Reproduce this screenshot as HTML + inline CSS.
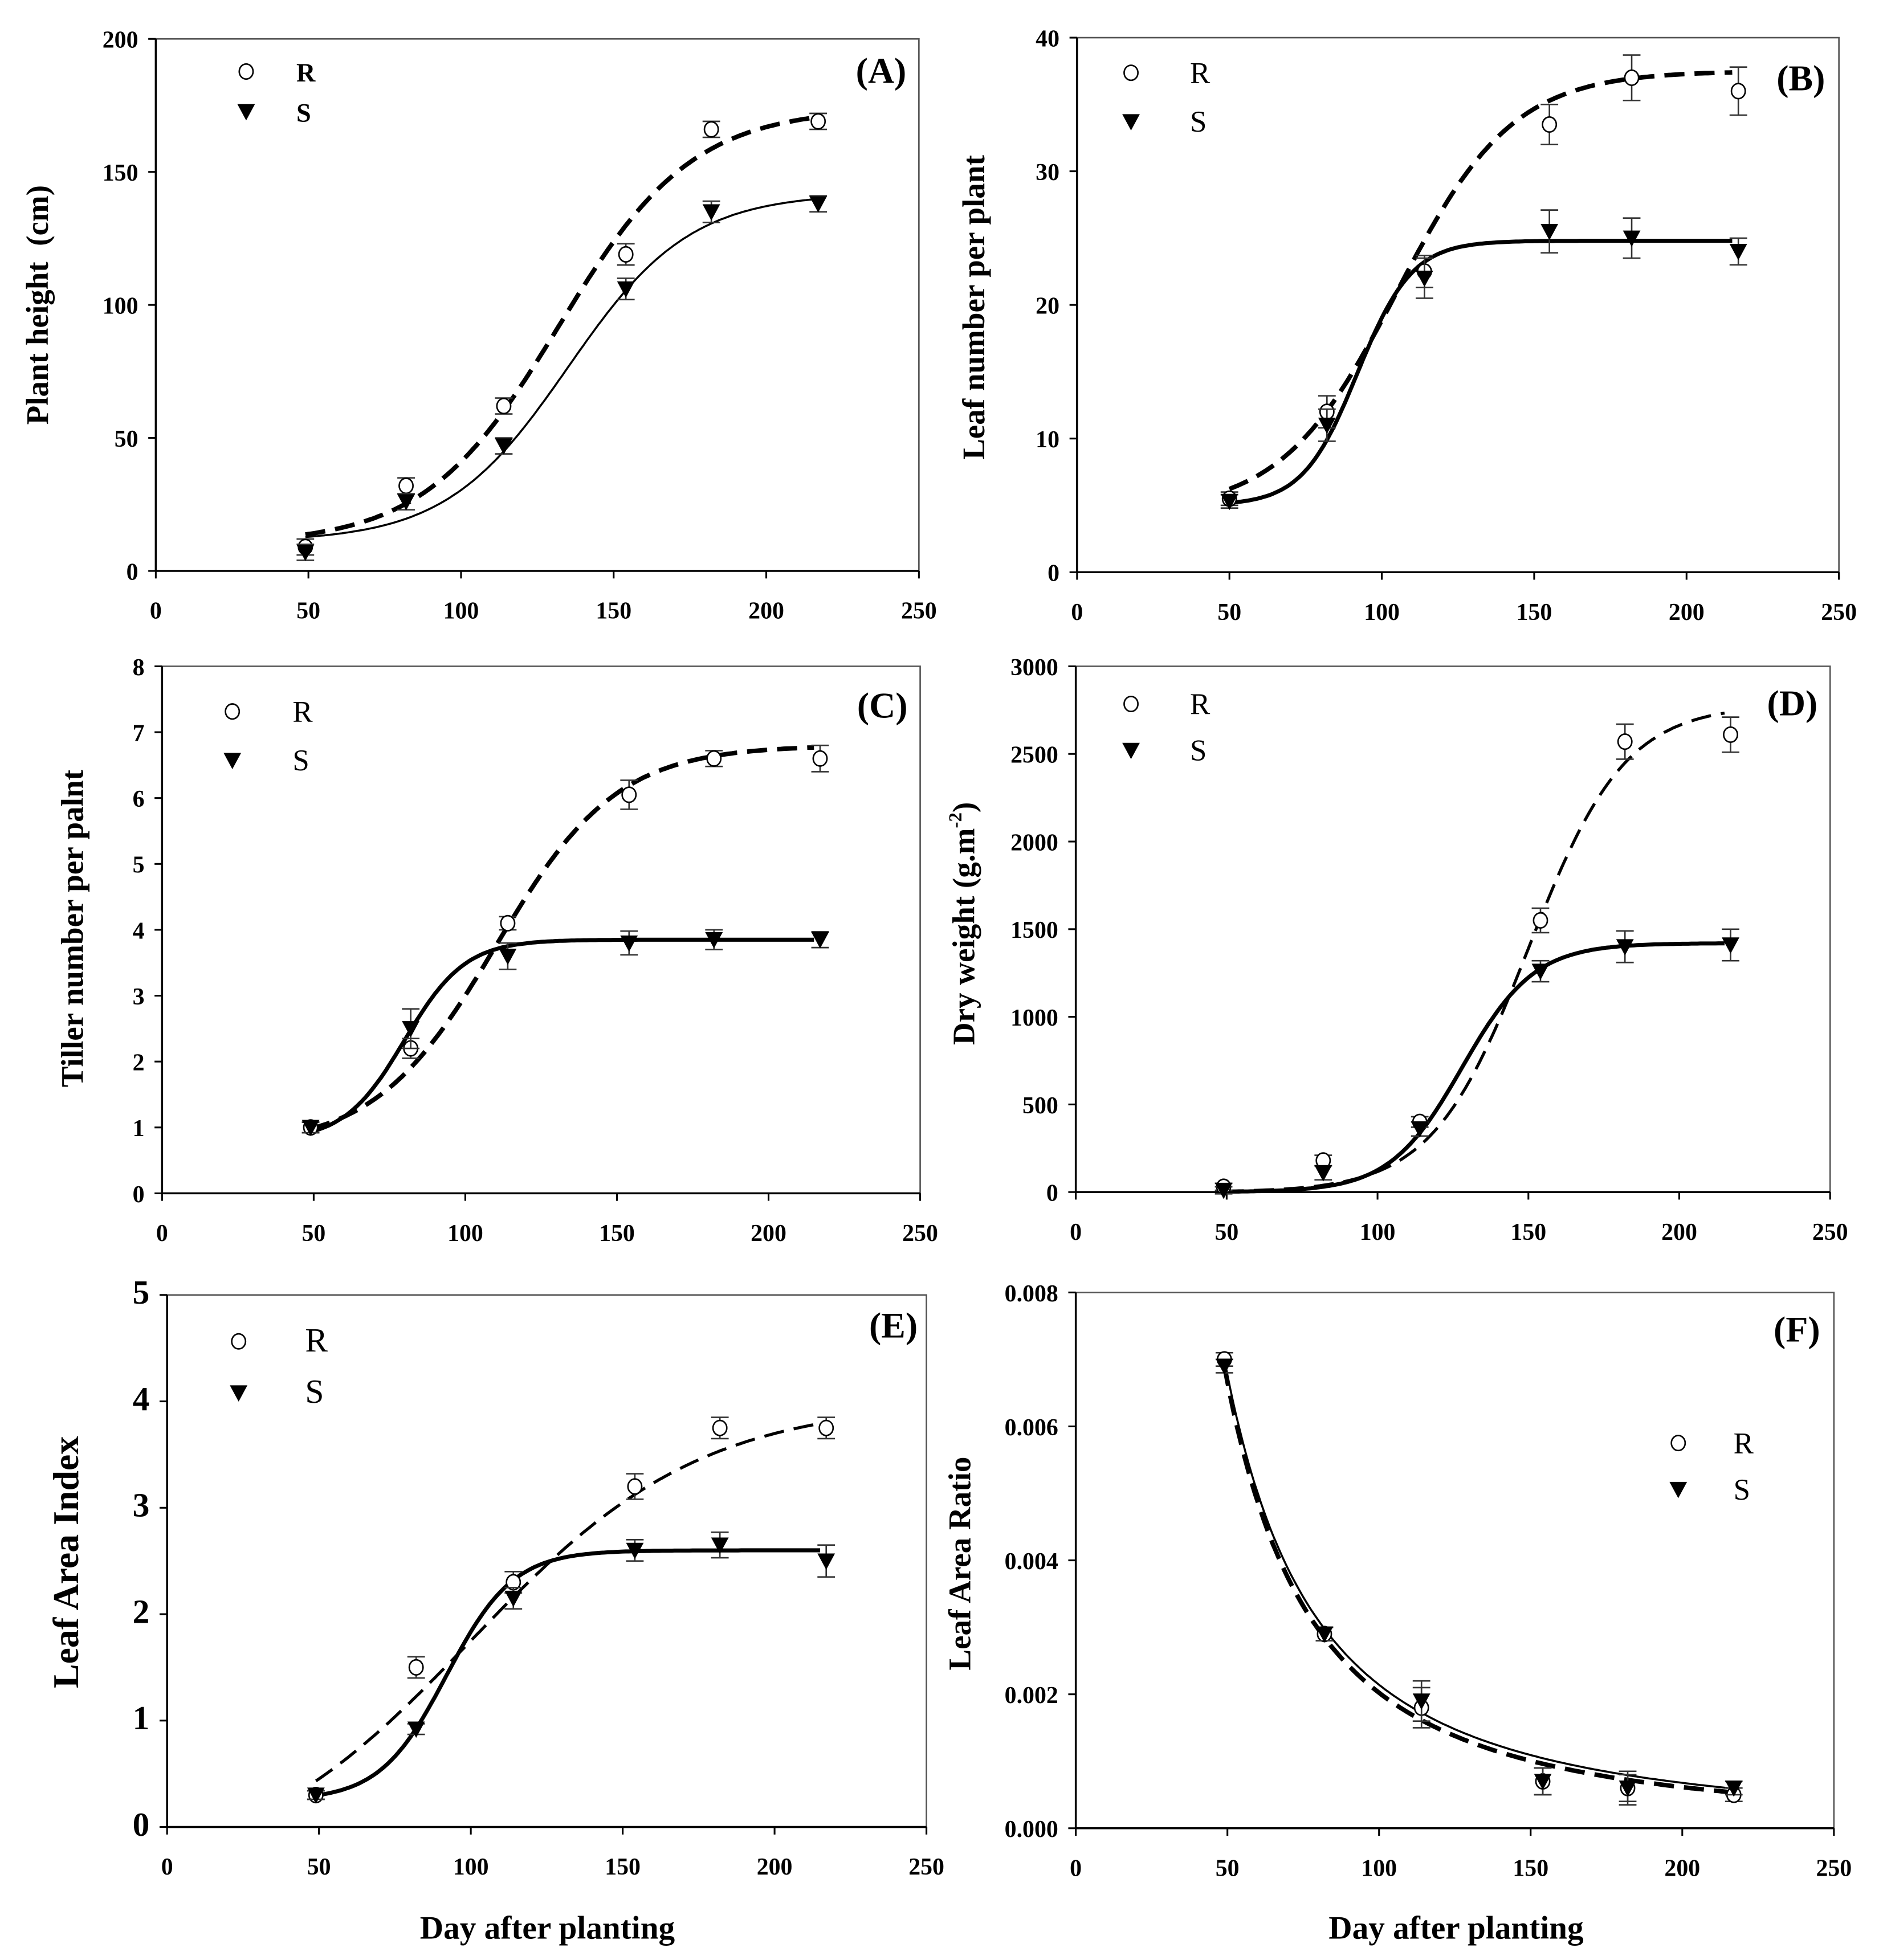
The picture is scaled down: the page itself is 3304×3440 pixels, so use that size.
<!DOCTYPE html>
<html><head><meta charset="utf-8"><style>
html,body{margin:0;padding:0;background:#fff;}
svg{display:block;font-family:"Liberation Serif",serif;}
</style></head><body>
<svg id="fig" xmlns="http://www.w3.org/2000/svg" width="3304" height="3440" viewBox="0 0 1500 1562"></svg>
<script>
// ---- data ----
const daysA=[49,82,114,154,182,217];
const aR=[9,32,62,119,166,169], aS=[7,26,47,106,135,138];
const aRerr=[3,3,3,4,3,3], aSerr=[3,3,3,4,4,3];
const daysB=[50,82,114,155,182,217];
const bR=[5.5,12,22.5,33.5,37,36], bS=[5.3,11,22,25.5,25,24];
const bRerr=[0.5,1.2,1.2,1.5,1.7,1.8], bSerr=[0.5,1.2,1.5,1.6,1.5,1];
const daysC=[49,82,114,154,182,217];
const cR=[1,2.2,4.1,6.05,6.6,6.6], cS=[1,2.5,3.6,3.8,3.85,3.85];
const cRerr=[0.08,0.15,0.1,0.22,0.12,0.2], cSerr=[0.08,0.3,0.2,0.18,0.15,0.12];
const daysD=[49,82,114,154,182,217];
const dR=[30,180,400,1550,2570,2610], dS=[10,110,360,1260,1400,1410];
const dRerr=[20,30,30,70,100,100], dSerr=[20,40,40,60,90,90];
const daysE=[49,82,114,154,182,217];
const eR=[0.3,1.5,2.3,3.2,3.75,3.75], eS=[0.3,0.92,2.15,2.6,2.65,2.5];
const eRerr=[0.04,0.1,0.1,0.12,0.1,0.1], eSerr=[0.04,0.05,0.1,0.1,0.12,0.15];
const daysF=[49,82,114,154,182,217];
const fR=[0.007,0.0029,0.0018,0.0007,0.0006,0.0005], fS=[0.0069,0.0029,0.0019,0.0007,0.0006,0.0006];
const fRerr=[0.0001,0.0001,0.0003,0.0002,0.00025,0.0001], fSerr=[0.0001,0.0001,0.0003,0.0002,0.0002,0.0001];
// fitted-curve parameters [c, a, x0, b] for logistic c + a/(1+exp(-(x-x0)/b))
const fitAR=[10,164,132,22], fitAS=[11,131,135,20];
const fitBR=[4.5,33,105,19], fitBS=[5,19.8,92,9];
const fitCR=[0.7,6.1,110,20], fitCS=[0.8,3.05,80,10];
const fitDR=[0,2780,150,16], fitDS=[0,1420,128,12];
const fitER=[-0.5,4.5,100,38], fitES=[0.25,2.35,92,11];
const fitFR=[0.007,49,1.66], fitFS=[0.0069,49,1.72]; // power law a*(x0/x)^k
const xTicks=[0,50,100,150,200,250];

const NS="http://www.w3.org/2000/svg";
const svg=document.getElementById('fig');
function el(tag,attrs,parent){const e=document.createElementNS(NS,tag);for(const k in attrs)e.setAttribute(k,attrs[k]);(parent||svg).appendChild(e);return e;}
function logi(p,x){return p[0]+p[1]/(1+Math.exp(-(x-p[2])/p[3]));}
function powl(p,x){return p[0]*Math.pow(p[1]/x,p[2]);}

function panel(o){
  const g=el('g',{});
  
  
  const sx=v=>o.x0+(v-0)/250*(o.x1-o.x0);
  const sy=v=>o.y0-(v-o.ymin)/(o.ymax-o.ymin)*(o.y0-o.y1);
  const frame=el('rect',{x:o.x0,y:o.y1,width:o.x1-o.x0,height:o.y0-o.y1,fill:'none',stroke:'#555','stroke-width':1.2},g);
  
  
  el('line',{x1:o.x0,y1:o.y0,x2:o.x1,y2:o.y0,stroke:'#000','stroke-width':1.6},g);
  el('line',{x1:o.x0,y1:o.y0,x2:o.x0,y2:o.y1,stroke:'#000','stroke-width':1.6},g);
  xTicks.forEach(t=>{
    el('line',{x1:sx(t),y1:o.y0,x2:sx(t),y2:o.y0+6,stroke:'#000','stroke-width':1.4},g);
    const tx=el('text',{x:sx(t),y:o.y0+38,'text-anchor':'middle','font-size':19,'font-weight':'bold'},g);
    tx.textContent=t;
    
    
  });
  o.yTicks.forEach((t,i)=>{
    el('line',{x1:o.x0-6,y1:sy(t),x2:o.x0,y2:sy(t),stroke:'#000','stroke-width':1.4},g);
    const tx=el('text',{x:o.x0-14,y:sy(t)+7,'text-anchor':'end','font-size':o.yfs||19,'font-weight':'bold'},g);
    tx.textContent=o.yLabels[i];
    
    
  });
  const yt=el('text',{x:o.ytx,y:o.yty,'text-anchor':'middle','font-size':o.ytfs||25,'font-weight':'bold',transform:`rotate(-90 ${o.ytx} ${o.yty})`},g);
  yt.innerHTML=o.ytitle;
  
  
  function curve(fn,p,from,to,style,name){
    let d='';for(let x=from;x<=to;x+=1){d+=(d?'L':'M')+sx(x).toFixed(1)+' '+sy(fn(p,x)).toFixed(1);}
    const pa=el('path',Object.assign({d:d,fill:'none',stroke:'#000'},style),g);
    
    
  }
  curve(o.fn,o.fitS,o.days[0],215,o.sStyle,'fit-line-s');
  curve(o.fn,o.fitR,o.days[0],215,o.rStyle,'fit-line-r');
  function pts(vals,errs,kind){
    vals.forEach((v,i)=>{
      const cx=sx(o.days[i]),cy=sy(v),e1=sy(v+errs[i]),e2=sy(v-errs[i]);
      el('line',{x1:cx,y1:e1,x2:cx,y2:e2,stroke:'#333','stroke-width':1.2},g);
      el('line',{x1:cx-7,y1:e1,x2:cx+7,y2:e1,stroke:'#333','stroke-width':1.2},g);
      el('line',{x1:cx-7,y1:e2,x2:cx+7,y2:e2,stroke:'#333','stroke-width':1.2},g);
      let m;
      if(kind==='R'){m=el('ellipse',{cx:cx,cy:cy,rx:5.5,ry:6,fill:'#fff',stroke:'#000','stroke-width':1.2},g);}
      else{m=el('path',{d:`M${cx-7} ${cy-6}L${cx+7} ${cy-6}L${cx} ${cy+7}Z`,fill:'#000'},g);}
      
    });
  }
  pts(o.R,o.Rerr,'R');pts(o.S,o.Serr,'S');
  const L=o.leg;
  const lc=el('ellipse',{cx:L[0],cy:L[1],rx:5.5,ry:6,fill:'#fff',stroke:'#000','stroke-width':1.2},g);
  
  
  const lt=el('path',{d:`M${L[0]-7} ${L[3]-6}L${L[0]+7} ${L[3]-6}L${L[0]} ${L[3]+7}Z`,fill:'#000'},g);
  
  
  const r=el('text',{x:L[2],y:L[1]+8,'font-size':o.legfs||24,'font-weight':o.legbold?'bold':'normal'},g);r.textContent='R';
  
  
  const s=el('text',{x:L[2],y:L[3]+8,'font-size':o.legfs||24,'font-weight':o.legbold?'bold':'normal'},g);s.textContent='S';
  
  
  const pl=el('text',{x:o.pl[0],y:o.pl[1],'text-anchor':'end','font-size':29,'font-weight':'bold'},g);pl.textContent='('+o.id+')';
  
  
}
const thickDash={'stroke-width':3.6,'stroke-dasharray':'16 8'};
const thinDash={'stroke-width':2.4,'stroke-dasharray':'16 8'};
const thick={'stroke-width':3.2}, thin={'stroke-width':1.6};
panel({id:'A',x0:124,x1:732,y0:455,y1:31,ymin:0,ymax:200,yTicks:[0,50,100,150,200],yLabels:['0','50','100','150','200'],
 ytitle:'Plant height&#160;&#160;(cm)',ytx:38,yty:243,days:daysA,R:aR,S:aS,Rerr:aRerr,Serr:aSerr,fn:logi,fitR:fitAR,fitS:fitAS,
 rStyle:thickDash,sStyle:thin,leg:[196,57,236,89],legbold:true,legfs:21,pl:[722,66]});
panel({id:'B',x0:858,x1:1465,y0:456,y1:30,ymin:0,ymax:40,yTicks:[0,10,20,30,40],yLabels:['0','10','20','30','40'],
 ytitle:'Leaf number per plant',ytx:784,yty:245,days:daysB,R:bR,S:bS,Rerr:bRerr,Serr:bSerr,fn:logi,fitR:fitBR,fitS:fitBS,
 rStyle:thickDash,sStyle:thick,leg:[901,58,948,97],pl:[1454,72]});
panel({id:'C',x0:129,x1:733,y0:951,y1:531,ymin:0,ymax:8,yTicks:[0,1,2,3,4,5,6,7,8],yLabels:['0','1','2','3','4','5','6','7','8'],
 ytitle:'Tiller number per palnt',ytx:66,yty:740,days:daysC,R:cR,S:cS,Rerr:cRerr,Serr:cSerr,fn:logi,fitR:fitCR,fitS:fitCS,
 rStyle:thickDash,sStyle:thick,leg:[185,567,233,606],pl:[723,572]});
panel({id:'D',x0:857,x1:1458,y0:950,y1:531,ymin:0,ymax:3000,yTicks:[0,500,1000,1500,2000,2500,3000],yLabels:['0','500','1000','1500','2000','2500','3000'],
 ytitle:'Dry weight (g.m<tspan dy="-10" font-size="15">-2</tspan><tspan dy="10">)</tspan>',ytx:776,yty:736,days:daysD,R:dR,S:dS,Rerr:dRerr,Serr:dSerr,fn:logi,fitR:fitDR,fitS:fitDS,
 rStyle:thinDash,sStyle:thick,leg:[901,561,948,598],pl:[1448,570]});
panel({id:'E',x0:133,x1:738,y0:1456,y1:1032,ymin:0,ymax:5,yTicks:[0,1,2,3,4,5],yLabels:['0','1','2','3','4','5'],yfs:27,
 ytitle:'Leaf Area Index',ytx:62,yty:1245,ytfs:29,days:daysE,R:eR,S:eS,Rerr:eRerr,Serr:eSerr,fn:logi,fitR:fitER,fitS:fitES,
 rStyle:thinDash,sStyle:thick,leg:[190,1069,243,1110],legfs:27,pl:[731,1066]});
panel({id:'F',x0:857,x1:1461,y0:1457,y1:1030,ymin:0,ymax:0.008,yTicks:[0,0.002,0.004,0.006,0.008],yLabels:['0.000','0.002','0.004','0.006','0.008'],
 ytitle:'Leaf Area Ratio',ytx:773,yty:1246,days:daysF,R:fR,S:fS,Rerr:fRerr,Serr:fSerr,fn:powl,fitR:fitFR,fitS:fitFS,
 rStyle:thin,sStyle:thickDash,leg:[1337,1150,1381,1187],pl:[1450,1069]});
const xt1=el('text',{x:436,y:1545,'text-anchor':'middle','font-size':26,'font-weight':'bold'});xt1.textContent='Day after planting';


const xt2=el('text',{x:1160,y:1545,'text-anchor':'middle','font-size':26,'font-weight':'bold'});xt2.textContent='Day after planting';


</script>
</body></html>
